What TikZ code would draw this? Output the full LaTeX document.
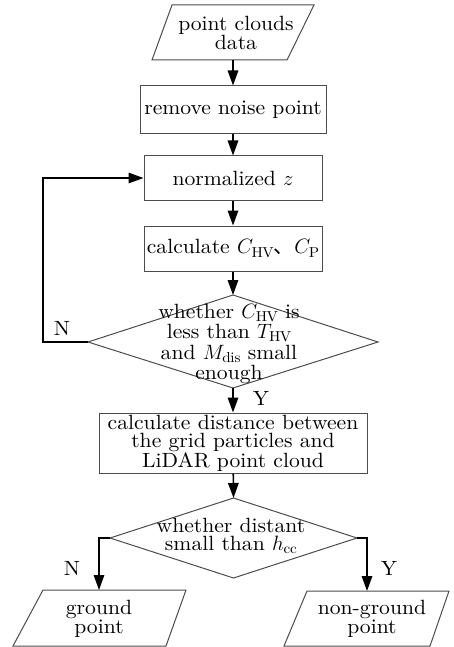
\documentclass[tikz,border=0pt]{standalone}
\usepackage{fontspec}
\setmainfont{lmroman10-regular.otf}[ItalicFont=lmroman10-italic.otf, FakeStretch=1.05]
\newfontfamily\cjk{Noto Sans CJK SC}
\usetikzlibrary{arrows.meta}
\begin{document}
\begin{tikzpicture}[x=1pt,y=-1pt,
  shp/.style={draw=black!70, line width=1pt},
  txt/.style={align=center, inner sep=0pt, font=\fontsize{20.6}{18}\selectfont},
  otxt/.style={align=center, inner sep=0pt, font=\fontsize{20.6}{19.5}\selectfont},
  dtxt/.style={align=center, inner sep=0pt, font=\fontsize{20.6}{20.5}\selectfont},
  box/.style={shp, txt},
  arr/.style={-{Triangle[length=15pt,width=10.5pt]}, line width=1.6pt, black},
  lbl/.style={inner sep=0pt, font=\fontsize{20.6}{21}\selectfont}]
\useasboundingbox (0,0) rectangle (454,647);
% input parallelogram
\coordinate (p1a) at (172,5);
\coordinate (p1b) at (314,5);
\coordinate (p1c) at (287,60);
\coordinate (p1d) at (152,60);
\draw[shp] (p1a) -- (p1b) -- (p1c) -- (p1d) -- cycle;
\node[otxt] (pcd) at (236,33) {point clouds\\data};
\coordinate (p1s) at (233,60);
% boxes
\node[box, minimum width=186pt, minimum height=48pt] (rn) at (233,110) {remove noise point};
\node[box, minimum width=178pt, minimum height=44pt] (nz) at (233,178) {normalized $z$};
\node[box, minimum width=178pt, minimum height=45pt] (cc) at (233,248.5) {calculate $C_{\mathrm{HV}}${\cjk 、}$C_{\mathrm{P}}$};
% diamond 1
\coordinate (d1t) at (233,295);
\coordinate (d1r) at (378,342);
\coordinate (d1b) at (233,388);
\coordinate (d1l) at (88,342);
\draw[shp] (d1t) -- (d1r) -- (d1b) -- (d1l) -- cycle;
\node[dtxt] (d1x) at (229,344) {whether $C_{\mathrm{HV}}$ is\\less than $T_{\mathrm{HV}}$\\and $M_{\mathrm{dis}}$ small\\enough};
% box 4
\node[box, minimum width=268pt, minimum height=60pt] (cd) at (233,443) {calculate distance between\\the grid particles and\\LiDAR point cloud};
% diamond 2
\coordinate (d2t) at (233.5,498);
\coordinate (d2r) at (357,538);
\coordinate (d2b) at (233.5,578);
\coordinate (d2l) at (110,538);
\draw[shp] (d2t) -- (d2r) -- (d2b) -- (d2l) -- cycle;
\node[txt] (d2x) at (231,536) {whether distant\\small than $h_{\mathrm{cc}}$};
% output parallelograms
\coordinate (g1) at (43,590);
\coordinate (g2) at (186,590);
\coordinate (g3) at (166,646);
\coordinate (g4) at (13,646);
\draw[shp] (g1) -- (g2) -- (g3) -- (g4) -- cycle;
\node[otxt] (gp) at (99,619) {ground\\point};
\coordinate (gtop) at (99,590);
\coordinate (n1) at (307,591);
\coordinate (n2) at (449,591);
\coordinate (n3) at (430,646);
\coordinate (n4) at (284,646);
\draw[shp] (n1) -- (n2) -- (n3) -- (n4) -- cycle;
\node[otxt] (ngp) at (372,619) {non-ground\\point};
\coordinate (ntop) at (367,591);
% connectors
\draw[arr] (p1s) -- (rn.north);
\draw[arr] (rn) -- (nz);
\draw[arr] (nz) -- (cc);
\draw[arr] (cc) -- (d1t);
\draw[arr] (d1b) -- (cd);
\draw[arr] (cd) -- (d2t);
\draw[arr] (d1l) -- ++(-45,0) |- (nz.west);
\draw[arr] (d2l) -| (gtop);
\draw[arr] (d2r) -| (ntop);
% labels
\node[lbl] (ln1) at (62,328) {N};
\node[lbl] (ly1) at (261,398) {Y};
\node[lbl] (ln2) at (72,568) {N};
\node[lbl] (ly2) at (389,568) {Y};
\end{tikzpicture}
\end{document}
